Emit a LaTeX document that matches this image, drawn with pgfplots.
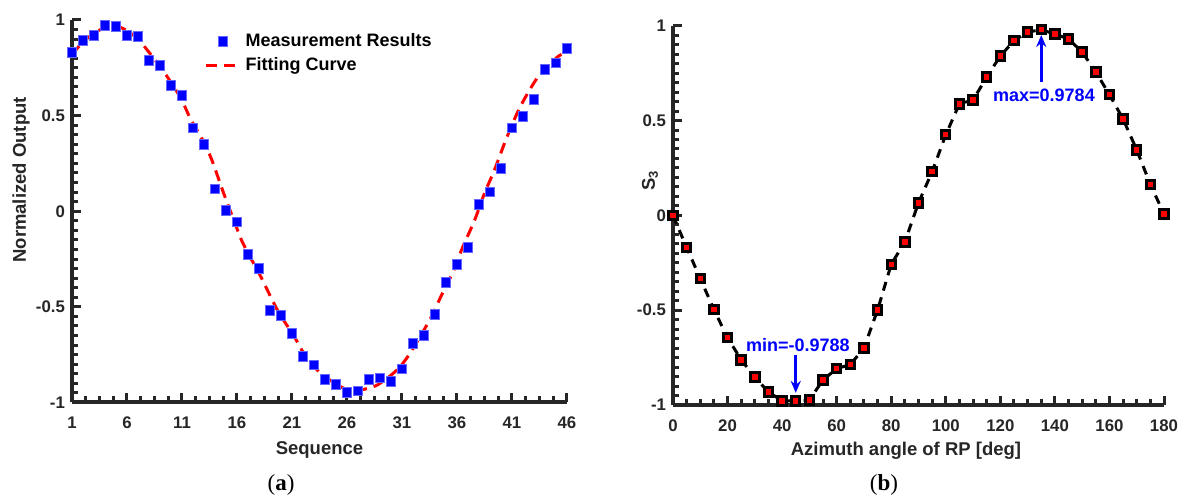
\documentclass[border=0pt]{standalone}
\usepackage{pgfplots}
\pgfplotsset{compat=1.18}
\usepackage{fontspec}
\setmainfont{Liberation Sans}
\newfontfamily\serifcap{Liberation Serif}
\usetikzlibrary{arrows.meta}
\definecolor{axgray}{RGB}{38,38,38}
\definecolor{mblue}{RGB}{0,0,255}
\definecolor{mred}{RGB}{255,0,0}

\pgfplotsset{
  myaxis/.style={
    scale only axis,
    anchor=south west,
    axis lines=left,
    axis line style={-, line width=2pt, draw=axgray},
    tick align=inside,
    tickwidth=4.6pt, subtickwidth=3.1pt,
    major tick style={draw=axgray, line width=1.5pt},
    minor tick style={draw=axgray, line width=1.5pt},
    ymin=-1, ymax=1,
    ytick={-1,-0.5,0,0.5,1},
    yticklabels={-1,-0.5,0,0.5,1},
    minor y tick num=9,
    minor x tick num=3,
    tick label style={font=\fontsize{8.4}{10}\selectfont\bfseries, text=axgray},
    xticklabel style={anchor=center, yshift=-10.25pt},
    label style={font=\fontsize{9.25}{11}\selectfont\bfseries, text=axgray},
    clip=false,
  }
}

\begin{document}
\begin{tikzpicture}
\useasboundingbox (0,0) rectangle (592.5pt,249pt);

% ---------------- (a) ----------------
\begin{axis}[myaxis,
  at={(36pt,47.75pt)},
  width=247.5pt, height=191.25pt,
  xmin=1, xmax=46,
  xtick={1,6,...,46},
  xticklabels={1,6,11,16,21,26,31,36,41,46},
  xlabel={Sequence},
  ylabel={Normalized Output},
  xlabel style={at={(axis description cs:0.5,-0.1229)}, anchor=center},
  ylabel style={at={(axis description cs:-0.103,0.582)}, anchor=center},
  legend style={draw=none, fill=none, at={(0.2546,0.987)}, anchor=north west,
    font=\fontsize{9}{10.8}\selectfont\bfseries, text=black,
    row sep=0pt, cells={anchor=west}},
]
\addplot[only marks, mark=square*, mark size=2.45pt,
  mark options={fill=mblue, draw=mblue!60, line width=0.4pt}]
coordinates {
(1,0.829)(2,0.895)(3,0.920)(4,0.970)(5,0.965)(6,0.921)(7,0.913)(8,0.790)
(9,0.761)(10,0.660)(11,0.604)(12,0.436)(13,0.351)(14,0.117)(15,0.005)
(16,-0.056)(17,-0.225)(18,-0.300)(19,-0.518)(20,-0.545)(21,-0.637)
(22,-0.757)(23,-0.803)(24,-0.880)(25,-0.906)(26,-0.946)(27,-0.939)
(28,-0.880)(29,-0.871)(30,-0.888)(31,-0.824)(32,-0.693)(33,-0.649)
(34,-0.539)(35,-0.370)(36,-0.279)(37,-0.187)(38,0.037)(39,0.101)
(40,0.224)(41,0.436)(42,0.497)(43,0.585)(44,0.742)(45,0.776)(46,0.852)
};
\addlegendentry{Measurement Results}
\addplot[smooth, tension=0.5, no marks, color=mred, line width=1.5pt,
  dash pattern=on 5.5pt off 3.5pt]
coordinates {
(1.0,0.82)(2,0.885)(3,0.93)(4,0.962)(4.5,0.972)(5,0.97)(6,0.945)(7,0.90)
(7.6,0.86)(8.7,0.78)(9.7,0.70)(10.9,0.59)(11.8,0.48)(12.9,0.37)(13.7,0.27)
(14.75,0.10)(15.8,-0.06)(16.4,-0.15)(17.2,-0.24)(18.1,-0.335)(19.0,-0.44)
(19.8,-0.53)(21.2,-0.655)(22.1,-0.745)(23.3,-0.83)(24.5,-0.885)(25.7,-0.925)
(26.9,-0.937)(28.7,-0.91)(30.5,-0.832)(31.7,-0.745)(33.6,-0.56)
(34.5,-0.45)(35.7,-0.31)(36.5,-0.19)(37.6,-0.047)(38.5,0.094)(39.4,0.215)
(40.5,0.382)(41.6,0.529)(42.6,0.634)(43.5,0.712)(45.0,0.80)(45.5,0.82)
};
\addlegendentry{Fitting Curve}
\end{axis}

% ---------------- (b) ----------------
\begin{axis}[myaxis,
  at={(336.5pt,46.5pt)},
  width=245.5pt, height=189.65pt,
  xmin=0, xmax=180,
  xtick={0,20,...,180},
  xticklabels={0,20,40,60,80,100,120,140,160,180},
  xlabel={Azimuth angle of RP [deg]},
  ylabel={S\textsubscript{3}},
  xlabel style={at={(axis description cs:0.4745,-0.1213)}, anchor=center},
  ylabel style={at={(axis description cs:-0.0468,0.593)}, anchor=center},
]
\addplot[color=black, line width=1.5pt, dash pattern=on 4.5pt off 3.5pt,
  mark=square*, mark size=2.1pt,
  mark options={solid, fill=mred, draw=black, line width=1.5pt}]
coordinates {
(0,0.000)(5,-0.170)(10,-0.333)(15,-0.497)(20,-0.645)(25,-0.762)(30,-0.853)
(35,-0.932)(40,-0.978)(45,-0.9788)(50,-0.973)(55,-0.868)(60,-0.808)
(65,-0.787)(70,-0.700)(75,-0.499)(80,-0.258)(85,-0.140)(90,0.066)
(95,0.230)(100,0.425)(105,0.588)(110,0.608)(115,0.729)(120,0.840)
(125,0.921)(130,0.967)(135,0.9784)(140,0.956)(145,0.930)(150,0.861)
(155,0.756)(160,0.636)(165,0.508)(170,0.345)(175,0.163)(180,0.007)
};
\draw[-{Stealth[length=6pt,width=5pt]}, mblue, line width=1.5pt]
  (axis cs:135,0.703) -- (axis cs:135,0.951);
\node[mblue, font=\fontsize{9}{10.8}\selectfont\bfseries] at (axis cs:136,0.635) {max=0.9784};
\draw[-{Stealth[length=6pt,width=5pt]}, mblue, line width=1.5pt]
  (axis cs:45,-0.736) -- (axis cs:45,-0.936);
\node[mblue, font=\fontsize{9}{10.8}\selectfont\bfseries] at (axis cs:45.8,-0.683) {min=-0.9788};
\end{axis}

\node[font=\serifcap\fontsize{11.5}{13}\selectfont] at (140.5pt,6.5pt) {(\textbf{a})};
\node[font=\serifcap\fontsize{11.5}{13}\selectfont] at (442pt,6.5pt) {(\textbf{b})};
\end{tikzpicture}
\end{document}
